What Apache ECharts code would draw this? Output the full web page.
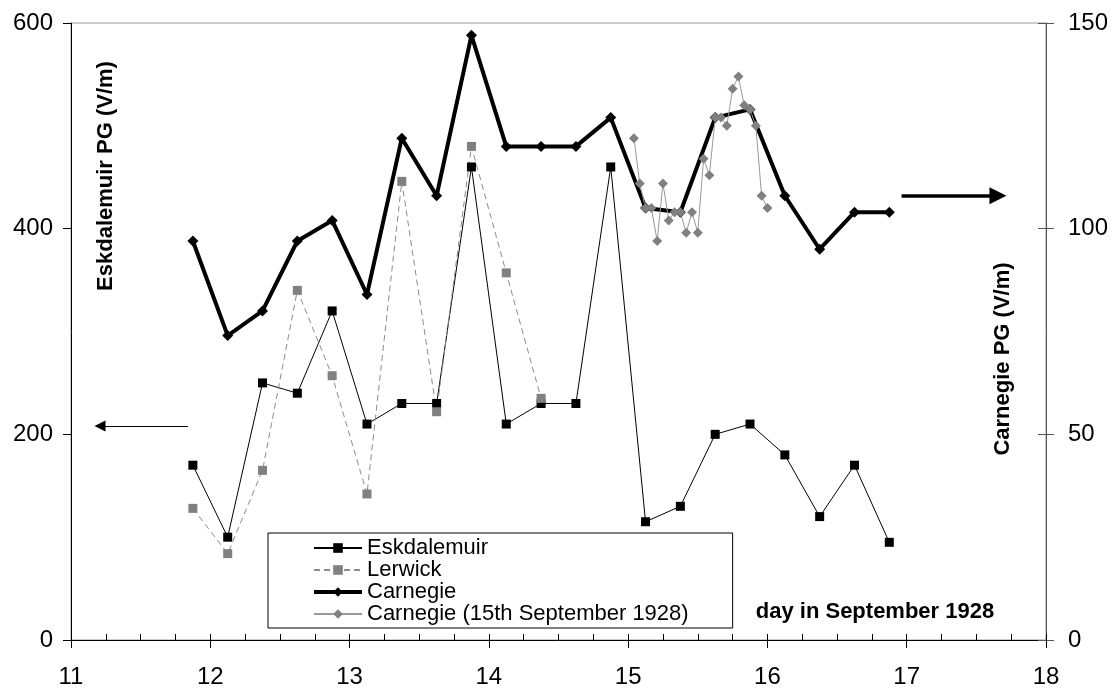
<!DOCTYPE html>
<html>
<head>
<meta charset="utf-8">
<script src="https://cdn.jsdelivr.net/npm/echarts@6/dist/echarts.min.js"></script>
<style>
  html, body { margin: 0; padding: 0; background: #fff; }
  #chart { width: 1116px; height: 689px; }
</style>
</head>
<body>
<div id="chart"></div>
<script>
// day in September 1928 (daily readings, 0.25 day apart)
var days = [11.875, 12.125, 12.375, 12.625, 12.875, 13.125, 13.375, 13.625, 13.875, 14.125, 14.375,
            14.625, 14.875, 15.125, 15.375, 15.625, 15.875, 16.125, 16.375, 16.625, 16.875];
// PG, V/m (left axis)
var eskdalemuir = [170, 100, 250, 240, 320, 210, 230, 230, 460, 210, 230,
                   230, 460, 115, 130, 200, 210, 180, 120, 170, 95];
var lerwick = [128, 84, 165, 340, 257, 142, 446, 222, 480, 357, 235];
// PG, V/m (right axis)
var carnegie = [97, 74, 80, 97, 102, 84, 122, 108, 147, 120, 120,
                120, 127, 105, 104, 127, 129, 108, 95, 104, 104];
// hourly values on the 15th (hour of day, GMT)
var hours15 = [1, 2, 3, 4, 5, 6, 7, 8, 9, 10, 11, 12, 13, 14, 15, 16, 17, 18, 19, 20, 21, 22, 23, 24];
var carnegie15 = [122, 111, 105, 105, 97, 111, 102, 104, 104, 99, 104, 99,
                  117, 113, 127, 127, 125, 134, 137, 130, 129, 125, 108, 105];

var leftTicks = [0, 600, 200];   // min, max, interval
var rightTicks = [0, 150, 50];
var dayTicks = [11, 18, 1];

function pairs(xs, ys) {
    var out = [];
    for (var i = 0; i < ys.length; i++) out.push([xs[i], ys[i]]);
    return out;
}

var FONT = 'Liberation Sans, Arial, sans-serif';
var chart = echarts.init(document.getElementById('chart'));

var option = {
    backgroundColor: '#fff',
    animation: false,
    grid: {
        left: 71, right: 70, top: 23, bottom: 49,
        outerBoundsMode: 'none', containLabel: false,
        show: true, borderColor: '#999', borderWidth: 1
    },
    legend: {
        orient: 'vertical',
        left: 268, top: 533,
        padding: [4, 44, 3, 44],
        itemWidth: 48, itemHeight: 12, itemGap: 0,
        borderColor: '#000', borderWidth: 1,
        textStyle: { fontFamily: FONT, fontSize: 22, lineHeight: 22, color: '#000' },
        data: [
            { name: 'Eskdalemuir' },
            { name: 'Lerwick' },
            { name: 'Carnegie', lineStyle: { width: 4 } },
            { name: 'Carnegie (15th September 1928)' }
        ]
    },
    xAxis: [
        {
            type: 'value', position: 'bottom',
            min: dayTicks[0], max: dayTicks[1], interval: dayTicks[2],
            axisLine: { lineStyle: { color: '#000', width: 1 } },
            axisTick: { inside: false, length: 8, lineStyle: { color: '#000' } },
            axisLabel: { fontFamily: FONT, fontSize: 24, color: '#000', margin: 25, showMinLabel: true, showMaxLabel: true },
            splitLine: { show: false }
        },
        {
            // quarter-day ticks, pointing inwards
            type: 'value', position: 'bottom',
            min: dayTicks[0], max: dayTicks[1], interval: 0.25,
            axisLine: { show: false },
            axisTick: { inside: true, length: 6, lineStyle: { color: '#000' } },
            axisLabel: { show: false },
            splitLine: { show: false }
        }
    ],
    yAxis: [
        {
            type: 'value', position: 'left',
            min: leftTicks[0], max: leftTicks[1], interval: leftTicks[2],
            axisLine: { show: true, lineStyle: { color: '#000' } },
            axisTick: { show: true, inside: false, length: 8, lineStyle: { color: '#000' } },
            axisLabel: { fontFamily: FONT, fontSize: 24, color: '#000', margin: 18 },
            splitLine: { show: false }
        },
        {
            type: 'value', position: 'right',
            min: rightTicks[0], max: rightTicks[1], interval: rightTicks[2],
            axisLine: { show: true, lineStyle: { color: '#555' } },
            axisTick: { show: true, inside: false, length: 8, lineStyle: { color: '#555' } },
            axisLabel: { fontFamily: FONT, fontSize: 24, color: '#000', margin: 22 },
            splitLine: { show: false }
        },
        {
            type: 'value', position: 'right',
            min: rightTicks[0], max: rightTicks[1], interval: rightTicks[2],
            axisLine: { show: false },
            axisTick: { show: true, inside: true, length: 8, lineStyle: { color: '#555' } },
            axisLabel: { show: false },
            splitLine: { show: false }
        }
    ],
    series: [
        {
            name: 'Eskdalemuir', type: 'line', yAxisIndex: 0,
            data: pairs(days, eskdalemuir),
            symbol: 'rect', symbolSize: 9,
            lineStyle: { color: '#000', width: 1 },
            itemStyle: { color: '#000' },
            markLine: {
                silent: true, symbol: ['none', 'triangle'],
                label: { show: false },
                data: [
                    [
                        { coord: [11.84, 208], lineStyle: { color: '#000', width: 1, type: 'solid' } },
                        { coord: [11.208, 208], symbolSize: 11 }
                    ],
                    [
                        { coord: [16.963, 432], lineStyle: { color: '#000', width: 3.5, type: 'solid' } },
                        { coord: [17.655, 432], symbolSize: 17 }
                    ]
                ]
            }
        },
        {
            name: 'Lerwick', type: 'line', yAxisIndex: 0,
            data: pairs(days, lerwick),
            symbol: 'rect', symbolSize: 9,
            lineStyle: { color: '#8c8c8c', width: 1, type: [6, 4] },
            itemStyle: { color: '#808080' }
        },
        {
            name: 'Carnegie', type: 'line', yAxisIndex: 1,
            data: pairs(days, carnegie),
            symbol: 'diamond', symbolSize: 11,
            lineStyle: { color: '#000', width: 4 },
            itemStyle: { color: '#000' }
        },
        {
            name: 'Carnegie (15th September 1928)', type: 'line', yAxisIndex: 1,
            data: pairs(hours15.map(function (h) { return 15 + h / 24; }), carnegie15),
            symbol: 'diamond', symbolSize: 10,
            lineStyle: { color: '#999', width: 1 },
            itemStyle: { color: '#808080' }
        }
    ],
    graphic: [
        {
            type: 'text', x: 106, y: 176, rotation: Math.PI / 2,
            style: { text: 'Eskdalemuir PG (V/m)', fontFamily: FONT, fontSize: 22, fontWeight: 'bold',
                     fill: '#000', align: 'center', verticalAlign: 'middle' }
        },
        {
            type: 'text', x: 1003, y: 359, rotation: Math.PI / 2,
            style: { text: 'Carnegie PG (V/m)', fontFamily: FONT, fontSize: 22, fontWeight: 'bold',
                     fill: '#000', align: 'center', verticalAlign: 'middle' }
        },
        {
            type: 'text', x: 875, y: 612,
            style: { text: 'day in September 1928', fontFamily: FONT, fontSize: 22, fontWeight: 'bold',
                     fill: '#000', align: 'center', verticalAlign: 'middle' }
        }
    ]
};

chart.setOption(option);
</script>
</body>
</html>
